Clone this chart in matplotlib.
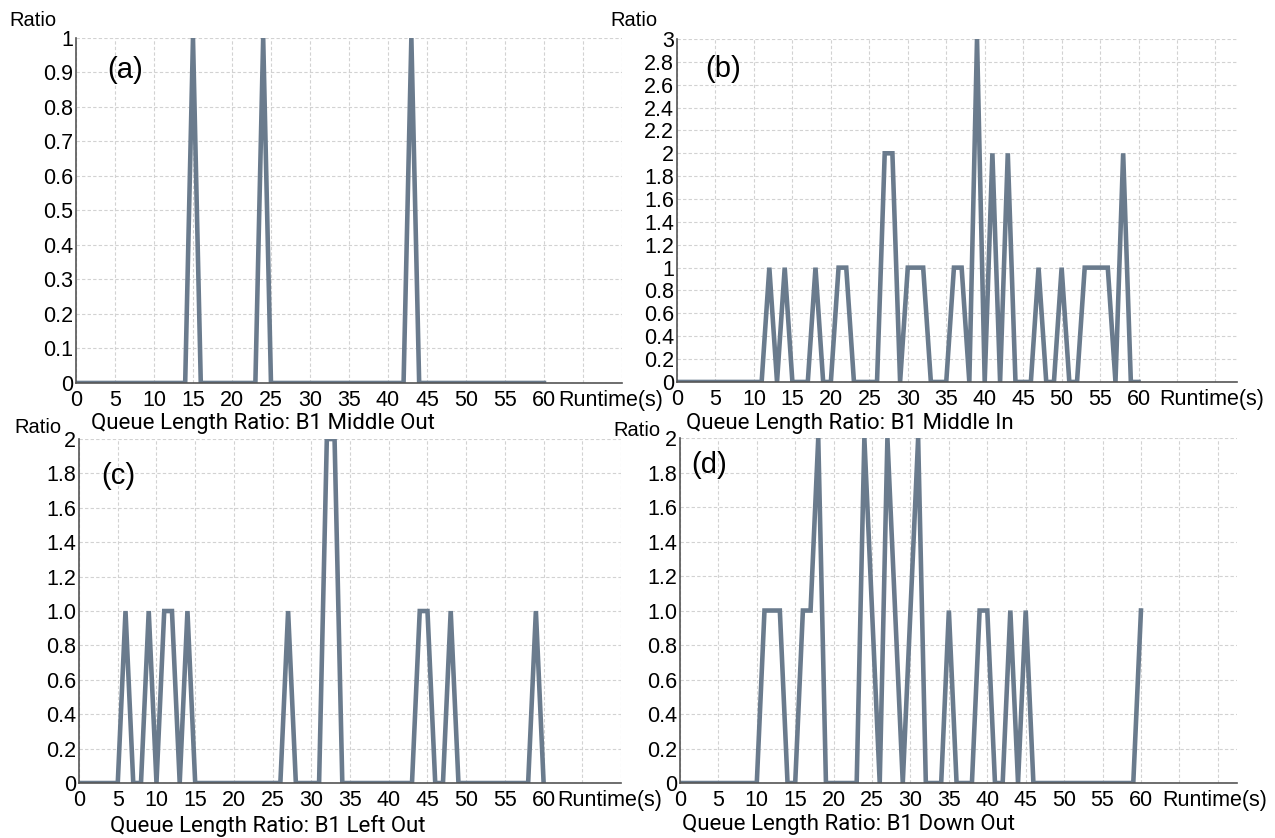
import matplotlib
matplotlib.use('Agg')
import matplotlib.pyplot as plt


FIGURE_SIZE = (12.75, 8.38)  # 1275x838 px at 100 dpi
LINE_COLOR = '#6a7b8d'
GRID_COLOR = '#d2d2d2'
SPINE_COLOR = '#555555'
FONT = 'Liberation Sans'
CAPTION_FONT = 'Roboto'

runtime = list(range(0, 61))

middle_out = [
    0, 0, 0, 0, 0, 0, 0, 0, 0, 0,
    0, 0, 0, 0, 0, 1, 0, 0, 0, 0,
    0, 0, 0, 0, 1, 0, 0, 0, 0, 0,
    0, 0, 0, 0, 0, 0, 0, 0, 0, 0,
    0, 0, 0, 1, 0, 0, 0, 0, 0, 0,
    0, 0, 0, 0, 0, 0, 0, 0, 0, 0,
    0,
]
middle_in = [
    0, 0, 0, 0, 0, 0, 0, 0, 0, 0,
    0, 0, 1, 0, 1, 0, 0, 0, 1, 0,
    0, 1, 1, 0, 0, 0, 0, 2, 2, 0,
    1, 1, 1, 0, 0, 0, 1, 1, 0, 3,
    0, 2, 0, 2, 0, 0, 0, 1, 0, 0,
    1, 0, 0, 1, 1, 1, 1, 0, 2, 0,
    0,
]
left_out = [
    0, 0, 0, 0, 0, 0, 1, 0, 0, 1,
    0, 1, 1, 0, 1, 0, 0, 0, 0, 0,
    0, 0, 0, 0, 0, 0, 0, 1, 0, 0,
    0, 0, 2, 2, 0, 0, 0, 0, 0, 0,
    0, 0, 0, 0, 1, 1, 0, 0, 1, 0,
    0, 0, 0, 0, 0, 0, 0, 0, 0, 1,
    0,
]
down_out = [
    0, 0, 0, 0, 0, 0, 0, 0, 0, 0,
    0, 1, 1, 1, 0, 0, 1, 1, 2, 0,
    0, 0, 0, 0, 2, 1, 0, 2, 1, 0,
    1, 2, 0, 0, 0, 1, 0, 0, 0, 1,
    1, 0, 0, 1, 0, 1, 0, 0, 0, 0,
    0, 0, 0, 0, 0, 0, 0, 0, 0, 0,
    1,
]

# grid runs to 70 s, labels stop at 60
x_grid = [0, 5, 10, 15, 20, 25, 30, 35, 40, 45, 50, 55, 60, 65, 70]
x_labels = ['0', '5', '10', '15', '20', '25', '30', '35', '40', '45', '50', '55', '60', '', '']
yticks_a = ['0', '0.1', '0.2', '0.3', '0.4', '0.5', '0.6', '0.7', '0.8', '0.9', '1']
yticks_b = ['0', '0.2', '0.4', '0.6', '0.8', '1', '1.2', '1.4', '1.6', '1.8',
            '2', '2.2', '2.4', '2.6', '2.8', '3']
yticks_cd = ['0', '0.2', '0.4', '0.6', '0.8', '1.0', '1.2', '1.4', '1.6', '1.8', '2']

panels = [
    # tag, caption, series, y labels, y max, axes rect, xmax
    ('(a)', 'Queue Length Ratio: B1 Middle Out', middle_out, yticks_a, 1.0,
     [0.0596, 0.5430, 0.4282, 0.4117], 70.0),
    ('(b)', 'Queue Length Ratio: B1 Middle In', middle_in, yticks_b, 3.0,
     [0.5310, 0.5442, 0.4392, 0.4093], 72.8),
    ('(c)', 'Queue Length Ratio: B1 Left Out', left_out, yticks_cd, 2.0,
     [0.0620, 0.0656, 0.4251, 0.4105], 70.0),
    ('(d)', 'Queue Length Ratio: B1 Down Out', down_out, yticks_cd, 2.0,
     [0.5333, 0.0656, 0.4369, 0.4117], 72.5),
]

# pixel positions (from top-left) of the loose texts round each panel
ratio_pos = [(33, 20), (634, 20), (38, 427), (637, 430)]
tag_pos = [(125, 70), (723, 69), (118, 476), (709, 465)]
caption_pos = [(91, 424), (686, 424), (110, 826), (682, 824)]
runtime_gap = [10, 15, 10, 15]  # points after the "60" tick

W, H = 1275, 838

fig = plt.figure(figsize=FIGURE_SIZE, dpi=100)

for i, (tag, caption, series, ylabels, ymax, rect, xmax) in enumerate(panels):
    ax = fig.add_axes(rect)
    ax.plot(runtime, series, color=LINE_COLOR, linewidth=3.3, solid_joinstyle='miter', zorder=3)

    ax.set_xlim(0, xmax)
    ax.set_ylim(0, ymax)

    ax.set_xticks(x_grid)
    ax.set_xticklabels(x_labels, fontsize=15.5, family=FONT)
    ax.set_yticks([float(v) for v in ylabels])
    ax.set_yticklabels(ylabels, fontsize=15.5, family=FONT)
    ax.tick_params(axis='x', length=0, pad=5)
    ax.tick_params(axis='y', length=0, pad=2)

    ax.grid(True, color=GRID_COLOR, linestyle=(0, (3, 2)), linewidth=0.8)

    for side in ('top', 'right'):
        ax.spines[side].set_visible(False)
    for side in ('left', 'bottom'):
        ax.spines[side].set_color(SPINE_COLOR)
        ax.spines[side].set_linewidth(1.2)
        ax.spines[side].set_zorder(4)

    ax.annotate('Runtime(s)', xy=(60, 0), xycoords=('data', 'axes fraction'),
                xytext=(runtime_gap[i], -5), textcoords='offset points',
                ha='left', va='top', fontsize=15.5, family=FONT)

    cx, cy = caption_pos[i]
    fig.text(cx / W, 1 - cy / H, caption, ha='left', va='center',
             fontsize=16, family=CAPTION_FONT)
    rx, ry = ratio_pos[i]
    fig.text(rx / W, 1 - ry / H, 'Ratio', ha='center', va='center', fontsize=14.5, family=FONT)
    tx, ty = tag_pos[i]
    fig.text(tx / W, 1 - ty / H, tag, ha='center', va='center', fontsize=21, family=FONT)

fig.savefig('out.png', dpi=100, facecolor='white')
